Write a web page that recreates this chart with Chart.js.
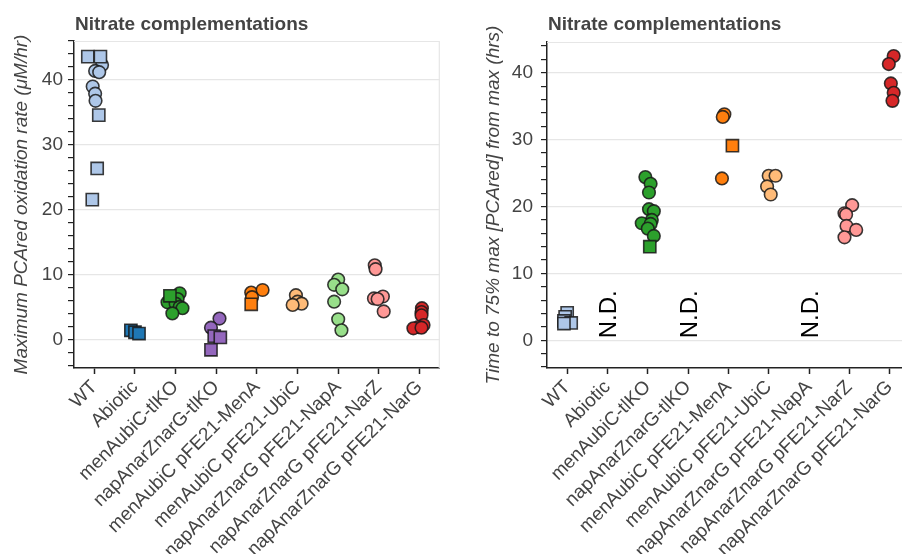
<!DOCTYPE html>
<html>
<head>
<meta charset="utf-8">
<script src="https://cdn.jsdelivr.net/npm/chart.js@4.4.1/dist/chart.umd.min.js"></script>
<style>
html, body { margin: 0; padding: 0; background: #fff; overflow: hidden; width: 902px; height: 554px; }
#left { position: absolute; left: 0; top: 0; }
#right { position: absolute; left: 450px; top: 0; }
</style>
</head>
<body>
<canvas id="left" width="450" height="554"></canvas>
<canvas id="right" width="470" height="554"></canvas>
<script>
const groups = [
  "WT",
  "Abiotic",
  "menAubiC-tlKO",
  "napAnarZnarG-tlKO",
  "menAubiC pFE21-MenA",
  "menAubiC pFE21-UbiC",
  "napAnarZnarG pFE21-NapA",
  "napAnarZnarG pFE21-NarZ",
  "napAnarZnarG pFE21-NarG"
];

const groupColors = [
  "#aec7e8", "#1f77b4", "#2ca02c", "#9467bd", "#ff7f0e",
  "#ffbb78", "#98df8a", "#ff9896", "#d62728"
];

// groups with no time value on the right panel
const ndGroups = [1, 3, 6];

const yTickLabels = [0, 10, 20, 30, 40];

// [group index, jitter, value]
const rateSquares = [
  [0, -0.16, 43.6], [0, 0.15, 43.6], [0, 0.11, 34.6], [0, 0.07, 26.4], [0, -0.05, 21.6],
  [1, -0.1, 1.5], [1, 0.0, 1.2], [1, 0.1, 1.0],
  [2, -0.14, 6.8],
  [3, -0.05, 0.6], [3, 0.1, 0.4], [3, -0.13, -1.5],
  [4, -0.14, 5.5]
];

const rateCircles = [
  [0, 0.19, 42.3], [0, 0.02, 41.4], [0, 0.12, 41.2], [0, -0.04, 39.0], [0, 0.02, 37.9], [0, 0.03, 36.8],
  [2, 0.1, 7.2], [2, 0.05, 6.3], [2, -0.2, 5.8], [2, 0.0, 5.6], [2, 0.1, 5.1], [2, 0.17, 4.9], [2, -0.08, 4.1],
  [3, 0.08, 3.3], [3, -0.13, 1.9],
  [4, -0.14, 7.3], [4, 0.14, 7.7], [4, -0.12, 6.6],
  [5, -0.04, 6.9], [5, 0.0, 5.9], [5, 0.1, 5.6], [5, -0.12, 5.4],
  [6, 0.0, 9.3], [6, -0.1, 8.5], [6, 0.1, 7.8], [6, -0.1, 5.9], [6, 0.0, 3.2], [6, 0.08, 1.5],
  [7, -0.1, 11.5], [7, -0.08, 10.9], [7, 0.1, 6.7], [7, -0.12, 6.4], [7, -0.03, 6.3], [7, 0.12, 4.4],
  [8, 0.06, 4.9], [8, 0.05, 4.3], [8, 0.05, 3.8], [8, 0.1, 2.3], [8, -0.03, 2.0], [8, -0.15, 1.8], [8, 0.05, 1.9]
];

const timeSquares = [
  [0, 0.0, 4.1], [0, -0.05, 3.5], [0, -0.08, 2.9], [0, 0.1, 2.6], [0, -0.08, 2.5],
  [2, 0.05, 14.0],
  [4, 0.1, 29.1]
];

const timeCircles = [
  [2, -0.06, 24.4], [2, 0.07, 23.4], [2, 0.03, 22.1], [2, 0.03, 19.6], [2, 0.15, 19.3],
  [2, 0.1, 18.0], [2, -0.15, 17.5], [2, 0.07, 17.4], [2, 0.0, 16.7], [2, 0.15, 15.6],
  [4, -0.1, 33.8], [4, -0.14, 33.4], [4, -0.16, 24.2],
  [5, 0.0, 24.6], [5, 0.17, 24.6], [5, -0.04, 23.0], [5, 0.05, 21.8],
  [7, 0.07, 20.2], [7, -0.12, 19.0], [7, -0.08, 18.8], [7, -0.07, 17.1], [7, 0.17, 16.5], [7, -0.12, 15.4],
  [8, 0.1, 42.5], [8, -0.02, 41.3], [8, 0.03, 38.4], [8, 0.1, 37.0], [8, 0.07, 35.8]
];

const FONT = "'Liberation Sans', Arial, Helvetica, sans-serif";

function makeSets(circles, squares) {
  var sets = [];
  groups.forEach(function (g, i) {
    var sq = squares.filter(p => p[0] === i).map(p => ({ x: i + p[1], y: p[2] }));
    var ci = circles.filter(p => p[0] === i).map(p => ({ x: i + p[1], y: p[2] }));
    var base = {
      label: g,
      backgroundColor: groupColors[i],
      borderColor: "rgba(25,25,25,0.85)",
      borderWidth: 1.6,
      hoverBorderWidth: 1.6
    };
    if (sq.length) sets.push(Object.assign({}, base, { data: sq, pointStyle: "rect", pointRadius: 8.6, pointHoverRadius: 8.6, order: 0 }));
    if (ci.length) sets.push(Object.assign({}, base, { data: ci, pointStyle: "circle", pointRadius: 6.3, pointHoverRadius: 6.3, order: 1 }));
  });
  return sets;
}

// title, frame and N.D. labels
const panelPlugin = {
  id: "panel",
  beforeDatasetsDraw(chart) {
    var a = chart.chartArea, ctx = chart.ctx;
    ctx.save();
    ctx.strokeStyle = "#e6e6e6";
    ctx.lineWidth = 1.2;
    ctx.beginPath();
    ctx.moveTo(a.left, a.top + 0.5);
    ctx.lineTo(a.right - 0.5, a.top + 0.5);
    ctx.lineTo(a.right - 0.5, a.bottom);
    ctx.stroke();
    ctx.restore();
  },
  afterDraw(chart, args, opts) {
    var ctx = chart.ctx, a = chart.chartArea;
    ctx.save();
    ctx.fillStyle = "#444";
    ctx.font = "bold 19px " + FONT;
    ctx.textBaseline = "middle";
    ctx.textAlign = "left";
    ctx.fillText(opts.title, a.left + 1, 25);
    (opts.nd || []).forEach(function (g) {
      var x = chart.scales.x.getPixelForValue(g) + 2;
      var y = chart.scales.y.getPixelForValue(0) - 2;
      ctx.save();
      ctx.translate(x, y);
      ctx.rotate(-Math.PI / 2);
      ctx.fillStyle = "#000";
      ctx.font = "24px " + FONT;
      ctx.textAlign = "left";
      ctx.textBaseline = "middle";
      ctx.fillText("N.D.", 0, 0);
      ctx.restore();
    });
    ctx.restore();
  }
};

function makeOptions(cfg) {
  return {
    responsive: false,
    animation: false,
    events: [],
    layout: { padding: { top: cfg.top, right: cfg.right, left: 0, bottom: 0 } },
    plugins: {
      legend: { display: false },
      tooltip: { enabled: false },
      panel: { title: "Nitrate complementations", nd: cfg.nd }
    },
    scales: {
      x: {
        type: "linear",
        min: -0.5,
        max: 8.5,
        afterFit: s => { s.height = 554 - 368; s.paddingLeft = 0; s.paddingRight = 0; },
        afterBuildTicks: s => { s.ticks = groups.map((g, i) => ({ value: i })); },
        grid: { drawOnChartArea: false, tickLength: 6, tickColor: "#222", tickWidth: 1.5 },
        border: { color: "#222", width: 1.5 },
        ticks: {
          autoSkip: false, maxRotation: 45, minRotation: 45, padding: 2,
          color: "#444", font: { family: FONT, size: 19 },
          callback: v => groups[v]
        }
      },
      y: {
        min: cfg.min,
        max: cfg.max,
        afterFit: s => { s.width = cfg.yWidth; },
        afterBuildTicks: s => {
          var t = [];
          for (var v = Math.ceil(s.min / 2) * 2; v <= s.max; v += 2) t.push({ value: v });
          s.ticks = t;
        },
        grid: {
          color: c => (c.tick && yTickLabels.includes(c.tick.value)) ? "#e6e6e6" : "rgba(0,0,0,0)",
          lineWidth: 1.2,
          tickColor: "#222",
          tickLength: 6,
          tickWidth: 1.2
        },
        border: { color: "#222", width: 1.5 },
        ticks: {
          autoSkip: false,
          padding: cfg.tickPad,
          color: "#444",
          font: { family: FONT, size: 19 },
          callback: v => yTickLabels.includes(v) ? String(v) : ""
        },
        title: {
          display: true,
          text: cfg.yTitle,
          color: "#444",
          font: { family: FONT, size: 19, style: "italic" },
          padding: { top: cfg.titlePad, bottom: 0 }
        }
      }
    }
  };
}

new Chart(document.getElementById("left").getContext("2d"), {
  type: "scatter",
  data: { datasets: makeSets(rateCircles, rateSquares) },
  options: makeOptions({
    top: 41, right: 9, min: -4.3, max: 46.0, yWidth: 74, tickPad: 5, titlePad: 10,
    yTitle: "Maximum PCAred oxidation rate (\u03bcM/hr)", nd: []
  }),
  plugins: [panelPlugin]
});

new Chart(document.getElementById("right").getContext("2d"), {
  type: "scatter",
  data: { datasets: makeSets(timeCircles, timeSquares) },
  options: makeOptions({
    top: 42, right: 5.5, min: -4.14, max: 44.6, yWidth: 97, tickPad: 8, titlePad: 32,
    yTitle: "Time to 75% max [PCAred] from max (hrs)", nd: ndGroups
  }),
  plugins: [panelPlugin]
});
</script>
</body>
</html>
